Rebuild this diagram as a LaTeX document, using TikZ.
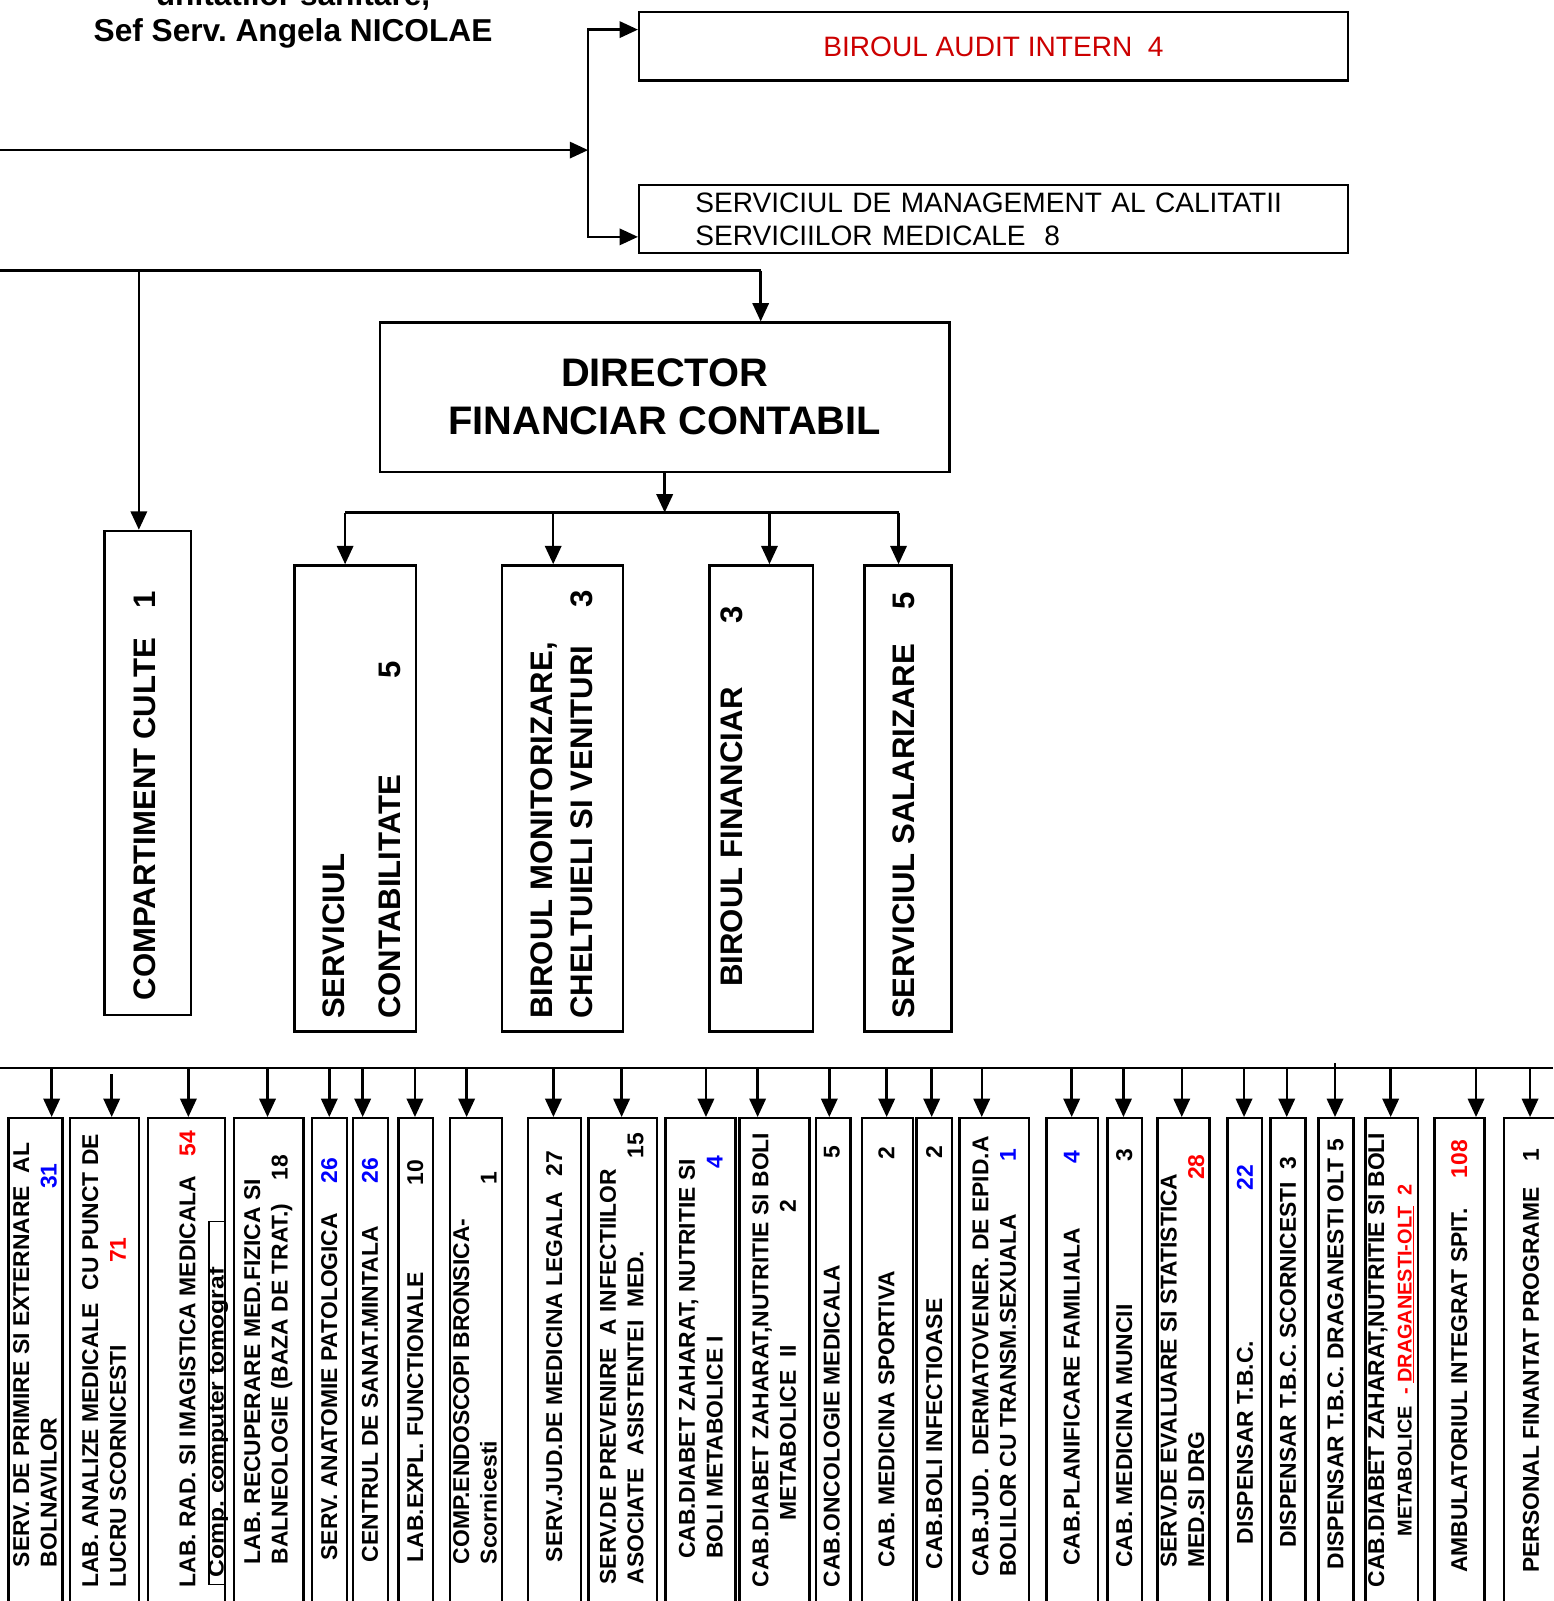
\documentclass[tikz,border=0pt]{standalone}
\usepackage{fontspec}
\setmainfont{Liberation Sans}
\usepackage{xcolor}
\usetikzlibrary{arrows.meta,positioning,calc}
\definecolor{numblue}{RGB}{0,0,255}
\definecolor{numred}{RGB}{255,0,0}
\definecolor{auditred}{RGB}{204,0,0}
\tikzstyle{unit} = [rectangle, draw, line width=2.4pt, inner sep=0pt]
\tikzstyle{link} = [line width=2.4pt]
\tikzstyle{arrow} = [line width=2.4pt, -{Triangle[length=18pt,width=16pt]}]
\tikzstyle{vlabel} = [rotate=90, anchor=west, align=left, inner sep=0pt, font=\bfseries\fontsize{22.4}{27}\selectfont]
\tikzstyle{mlabel} = [rotate=90, anchor=west, align=left, inner sep=0pt, font=\bfseries\fontsize{30.5}{39.3}\selectfont]
\newcommand{\vrow}[2]{\makebox[#1pt][l]{#2}}
\newcommand{\blnum}[1]{\textcolor{numblue}{#1}}
\newcommand{\rdnum}[1]{\textcolor{numred}{#1}}

\begin{document}
\frenchspacing
\begin{tikzpicture}[x=1pt, y=-1pt]
\useasboundingbox (0,0) rectangle (1521,1568);

% Upper level
\node[anchor=south, align=center, font=\bfseries\fontsize{31}{35.5}\selectfont] (title) at (287,51) {unitatilor sanitare,\\Sef Serv. Angela NICOLAE};
\node[unit, minimum width=694, minimum height=67, text=auditred, font=\fontsize{27.5}{32.6}\selectfont] (audit) at (973,45.5) {BIROUL AUDIT INTERN\ \ 4};
\node[unit, minimum width=694, minimum height=67, text width=690, align=left, font=\fontsize{27.5}{32.6}\selectfont] (smc) at (973,214.5) {\hspace*{53pt}SERVICIUL DE MANAGEMENT AL CALITATII\\\hspace*{53pt}SERVICIILOR MEDICALE\ \ 8};

\coordinate (mgr) at (0,147);
\coordinate (jm) at (576,147);
\coordinate (jt) at (576,29);
\coordinate (jb) at (576,232);
\draw[arrow] (mgr) -- (jm);
\draw[link, line cap=rect] (jt) -- (jb);
\draw[arrow] (jt) -- (jt -| audit.west);
\draw[arrow] (jb) -- (jb -| smc.west);

% Director financiar contabil
\node[unit, minimum width=558, minimum height=146, align=center, font=\bfseries\fontsize{39}{47}\selectfont] (dfc) at (651,389) {DIRECTOR\\FINANCIAR CONTABIL};

\node[unit, anchor=north west, minimum width=84.8, minimum height=474.2] (culte) at (101.2,518.8) {};
\node[mlabel] (culteT) at (142,979.7) {\vrow{400.7}{COMPARTIMENT CULTE\hfill 1}};

\coordinate (dl) at (0,265);
\coordinate (dr) at (745,265);
\coordinate (dc) at (136,265);
\draw[link] (dl) -- (dr);
\draw[arrow] (dr) -- (dr |- dfc.north);
\draw[arrow] (dc) -- (dc |- culte.north);

% Compartments of the director
\node[unit, anchor=north west, minimum width=119.2, minimum height=456.4] (scont) at (287.2,552.6) {};
\node[mlabel] (scontT) at (354.2,998) {SERVICIUL\\[16.2pt]\vrow{350}{CONTABILITATE\hfill 5}};
\node[unit, anchor=north west, minimum width=118.6, minimum height=456.4] (bmon) at (490.3,552.6) {};
\node[mlabel] (bmonT) at (550,998) {BIROUL MONITORIZARE,\\\vrow{420}{CHELTUIELI SI VENITURI\hfill 3}};
\node[unit, anchor=north west, minimum width=101.3, minimum height=456.4] (bfin) at (693.7,552.6) {};
\node[mlabel] (bfinT) at (716.6,966.5) {\vrow{372.5}{BIROUL FINANCIAR\hfill 3}};
\node[unit, anchor=north west, minimum width=84.9, minimum height=456.4] (ssal) at (845.6,552.6) {};
\node[mlabel] (ssalT) at (884.8,998) {\vrow{418}{SERVICIUL SALARIZARE\hfill 5}};

\coordinate (fb) at (651,502);
\coordinate (fb1) at (338,502);
\coordinate (fb2) at (541.8,502);
\coordinate (fb3) at (753.6,502);
\coordinate (fb4) at (880,502);
\draw[arrow] (dfc.south) -- (fb);
\draw[link] (fb1) -- (fb4);
\draw[arrow] (fb1) -- (fb1 |- scont.north);
\draw[arrow] (fb2) -- (fb2 |- bmon.north);
\draw[arrow] (fb3) -- (fb3 |- bfin.north);
\draw[arrow] (fb4) -- (fb4 |- ssal.north);

% Bottom row
\foreach \n/\x/\w in {1/7.2/52.6, 2/67.6/67.2, 3/143.7/75.7, 4/227.9/68.2, 5/304.2/34.3, 6/344.4/34.3, 7/389.1/34, 8/439.7/51, 9/515.8/52.2, 10/575.2/67.3, 11/650.6/68.6, 12/723.1/68.6, 13/798.2/33.6, 14/842.9/50, 15/896.2/34.9, 16/938.6/68, 17/1023.5/50.6, 18/1083.3/33.9, 19/1132.3/51.2, 20/1200.8/34.2, 21/1243.2/34.3, 22/1290.2/34.3, 23/1336.3/51.2, 24/1403.9/48.9, 25/1471.8/55}
  \node[unit, anchor=north west, minimum width=\w, minimum height=520] (b\n) at (\x,1094) {};

\node[vlabel] (t1) at (34.3,1535) {SERV. DE PRIMIRE SI EXTERNARE\ \ AL\\\vrow{395.5}{BOLNAVILOR\hfill\blnum{31}}};
\node[vlabel] (t2) at (102,1555) {LAB. ANALIZE MEDICALE\ \ CU PUNCT DE\\\vrow{343}{LUCRU SCORNICESTI\hfill\rdnum{71}}};
\node[vlabel] (t3) at (183.6,1554.7) {\vrow{446.7}{LAB. RAD. SI IMAGISTICA MEDICALA\hfill\rdnum{54}}};
\node[unit, line width=1.5pt, anchor=north west, minimum width=15.4, minimum height=355.4] (ct) at (204,1195.6) {};
\node[rotate=90, anchor=west, inner sep=0pt, font=\bfseries\fontsize{21}{25}\selectfont] (ctT) at (213.7,1545) {\scalebox{1.15}[1]{Comp. computer tomograf}};
\node[vlabel] (t4) at (262.8,1532) {LAB. RECUPERARE MED.FIZICA SI\\\vrow{401}{BALNEOLOGIE (BAZA DE TRAT.)\hfill 18}};
\node[vlabel] (t5) at (322.4,1528.4) {\vrow{394.4}{SERV. ANATOMIE PATOLOGICA\hfill\blnum{26}}};
\node[vlabel] (t6) at (362.3,1530.2) {\vrow{396}{CENTRUL DE SANAT.MINTALA\hfill\blnum{26}}};
\node[vlabel] (t7) at (406.8,1530.2) {\vrow{394}{LAB.EXPL. FUNCTIONALE\hfill 10}};
\node[vlabel] (t8) at (465.2,1532) {COMP.ENDOSCOPI BRONSICA-\\\vrow{384}{Scornicesti\hfill 1}};
\node[vlabel] (t9) at (542.7,1530.2) {\vrow{403}{SERV.JUD.DE MEDICINA LEGALA\hfill 27}};
\node[vlabel] (t10) at (608.9,1552) {SERV.DE PREVENIRE\ \ A INFECTIILOR\\\vrow{442}{ASOCIATE\ \ ASISTENTEI\ \ MED.\hfill 15}};
\node[vlabel] (t11) at (686.4,1527) {CAB.DIABET ZAHARAT, NUTRITIE SI\\\vrow{395}{BOLI METABOLICE I\hfill\blnum{4}}};
\node[vlabel, align=center] (t12) at (758.2,1554.7) {CAB.DIABET ZAHARAT,NUTRITIE SI BOLI\\METABOLICE\ \ II\hspace{130pt}2};
\node[vlabel] (t13) at (814.5,1554.7) {\vrow{432.7}{CAB.ONCOLOGIE MEDICALA\hfill 5}};
\node[vlabel] (t14) at (868.3,1535.5) {\vrow{411.8}{CAB. MEDICINA SPORTIVA\hfill 2}};
\node[vlabel] (t15) at (915,1537.2) {\vrow{415}{CAB.BOLI INFECTIOASE\hfill 2}};
\node[vlabel] (t16) at (973.8,1544.2) {CAB.JUD.\ \ DERMATOVENER. DE EPID.A\\\vrow{418.7}{BOLILOR CU TRANSM.SEXUALA\hfill\blnum{1}}};
\node[vlabel] (t17) at (1049.6,1533.7) {\vrow{406.5}{CAB.PLANIFICARE FAMILIALA\hfill\blnum{4}}};
\node[vlabel] (t18) at (1101,1535.4) {\vrow{410}{CAB. MEDICINA MUNCII\hfill 3}};
\node[vlabel] (t19) at (1158.2,1535.4) {SERV.DE EVALUARE SI STATISTICA\\\vrow{404.7}{MED.SI DRG\hfill\rdnum{28}}};
\node[vlabel] (t20) at (1219.4,1512.7) {\vrow{371.7}{DISPENSAR T.B.C.\hfill\blnum{22}}};
\node[vlabel] (t21) at (1261.5,1516.2) {DISPENSAR T.B.C. SCORNICESTI\ \ 3};
\node[vlabel] (t22) at (1307.9,1537.2) {DISPENSAR T.B.C. DRAGANESTI OLT 5};
\node[vlabel, align=center] (t23) at (1362.3,1554.7) {CAB.DIABET ZAHARAT,NUTRITIE SI BOLI\\{\fontsize{19.5}{27}\selectfont METABOLICE\ \ \textcolor{numred}{- \underline{DRAGANESTI-OLT}\ \ 2}}};
\node[vlabel] (t24) at (1429.2,1540.7) {\vrow{424}{AMBULATORIUL INTEGRAT SPIT.\hfill\rdnum{108}}};
\node[vlabel] (t25) at (1499.4,1540.7) {\vrow{415}{PERSONAL FINANTAT PROGRAME\hfill 1}};

\coordinate (bl) at (0,1046);
\coordinate (br) at (1521,1046);
\draw[link] (bl) -- (br);
\foreach \n/\x/\y in {1/50.6/1046, 2/109.4/1052, 3/184.5/1046, 4/262/1046, 5/322.5/1046, 6/355.2/1046, 7/406.4/1046, 8/457/1046, 9/542/1046, 10/608.8/1046, 11/691.4/1046, 12/742/1046, 13/812.2/1046, 14/868.4/1046, 15/912.5/1046, 16/961.5/1046, 17/1049.6/1046, 18/1100.3/1046, 19/1157.4/1046, 20/1218.4/1046, 21/1260.2/1046, 22/1307.5/1041, 23/1362/1046, 24/1445.6/1046, 25/1498.5/1046}
  {\coordinate (c\n) at (\x,\y);
   \draw[arrow] (c\n) -- (c\n |- b\n.north);}
\end{tikzpicture}
\end{document}
